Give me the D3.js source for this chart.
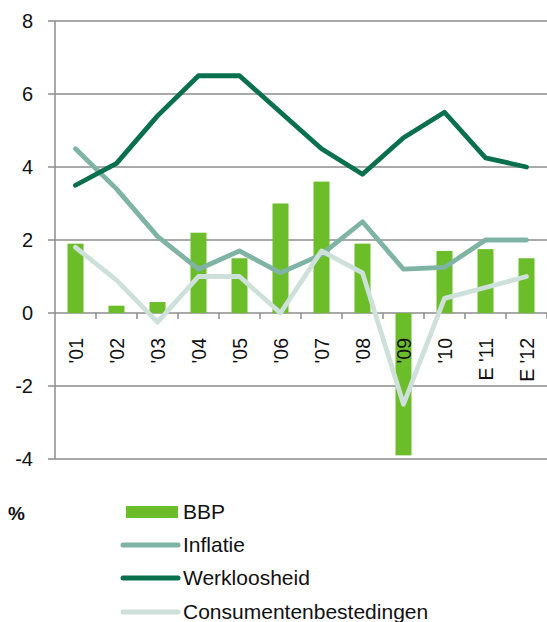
<!DOCTYPE html>
<html>
<head>
<meta charset="utf-8">
<script src="https://cdn.jsdelivr.net/npm/d3@7"></script>
<style>
  html, body { margin: 0; padding: 0; background: #fff; }
  svg { display: block; font-family: "Liberation Sans", Arial, Helvetica, sans-serif; }
</style>
</head>
<body>
<svg id="chart" width="547" height="622"></svg>
<script>
const categories = ["'01", "'02", "'03", "'04", "'05", "'06", "'07", "'08", "'09", "'10", "E '11", "E '12"];
const bbp = [1.9, 0.2, 0.3, 2.2, 1.5, 3.0, 3.6, 1.9, -3.9, 1.7, 1.75, 1.5];
const inflatie = [4.5, 3.4, 2.1, 1.2, 1.7, 1.1, 1.6, 2.5, 1.2, 1.25, 2.0, 2.0];
const werkloosheid = [3.5, 4.1, 5.4, 6.5, 6.5, 5.5, 4.5, 3.8, 4.8, 5.5, 4.25, 4.0];
const consumenten = [1.8, 0.9, -0.25, 1.0, 1.0, 0.0, 1.7, 1.1, -2.5, 0.4, 0.7, 1.0];
const yTicks = [-4, -2, 0, 2, 4, 6, 8];
const legendLabels = ["BBP", "Inflatie", "Werkloosheid", "Consumentenbestedingen"];
const unitLabel = "%";

const colors = {
  bbp: "#6bbd2a",
  inflatie: "#7fb3a4",
  werkloosheid: "#08704d",
  consumenten: "#cde0da",
  grid: "#8c8c8c"
};

const svg = d3.select("#chart");
const pLeft = 55, pRight = 547, pTop = 21, pBottom = 459;

const x = d3.scaleBand().domain(categories).range([pLeft, pRight]).paddingInner(0).paddingOuter(0);
const y = d3.scaleLinear().domain([-4, 8]).range([pBottom, pTop]);
const barW = x.bandwidth() * 0.39;

// Gridlines
svg.append("g").selectAll("line").data(yTicks).join("line")
  .attr("x1", pLeft - 7).attr("x2", pRight)
  .attr("y1", d => y(d)).attr("y2", d => y(d))
  .attr("stroke", colors.grid).attr("stroke-width", 1.5);

// Y axis labels
svg.append("g").selectAll("text").data(yTicks).join("text")
  .attr("x", 33).attr("y", d => y(d)).attr("dy", "0.36em")
  .attr("text-anchor", "end").attr("font-size", 20).attr("fill", "#111")
  .text(d => d);

// Bars
svg.append("g").selectAll("rect").data(bbp).join("rect")
  .attr("x", (d, i) => x(categories[i]) + (x.bandwidth() - barW) / 2)
  .attr("width", barW)
  .attr("y", d => y(Math.max(0, d)))
  .attr("height", d => Math.abs(y(d) - y(0)))
  .attr("fill", colors.bbp);

// Y axis line
svg.append("line").attr("x1", pLeft).attr("x2", pLeft).attr("y1", pTop).attr("y2", pBottom)
  .attr("stroke", colors.grid).attr("stroke-width", 1.5);

// Zero axis ticks
const bounds = categories.map(c => x(c) + x.bandwidth());
svg.append("g").selectAll("line").data(bounds).join("line")
  .attr("x1", d => d).attr("x2", d => d)
  .attr("y1", y(0)).attr("y2", y(0) + 6)
  .attr("stroke", colors.grid).attr("stroke-width", 1.5);

// X labels (rotated)
svg.append("g").selectAll("text").data(categories).join("text")
  .attr("transform", d => `translate(${x(d) + x.bandwidth() / 2},338) rotate(-90)`)
  .attr("dy", "0.36em")
  .attr("text-anchor", "end").attr("font-size", 19.5).attr("fill", "#111")
  .text(d => d);

// Lines
const line = d3.line().x((d, i) => x(categories[i]) + x.bandwidth() / 2).y(d => y(d));
[["inflatie", inflatie], ["werkloosheid", werkloosheid], ["consumenten", consumenten]].forEach(([k, vals]) => {
  svg.append("path").datum(vals)
    .attr("d", line)
    .attr("fill", "none")
    .attr("stroke", colors[k])
    .attr("stroke-width", 4.8)
    .attr("stroke-linejoin", "round")
    .attr("stroke-linecap", "round");
});

// Legend
svg.append("text").attr("x", 8).attr("y", 520).attr("font-size", 19).attr("font-weight", "bold")
  .attr("fill", "#111").text(unitLabel);

const legendY = [512, 545, 578, 612];
const legendKeys = ["bbp", "inflatie", "werkloosheid", "consumenten"];
const lg = svg.append("g");
legendKeys.forEach((k, i) => {
  if (k === "bbp") {
    lg.append("rect").attr("x", 126).attr("y", legendY[i] - 6).attr("width", 52).attr("height", 12)
      .attr("fill", colors.bbp);
  } else {
    lg.append("line").attr("x1", 123).attr("x2", 178).attr("y1", legendY[i]).attr("y2", legendY[i])
      .attr("stroke", colors[k]).attr("stroke-width", 5).attr("stroke-linecap", "round");
  }
  lg.append("text").attr("x", 183).attr("y", legendY[i] + 7)
    .attr("font-size", 21).attr("fill", "#111").text(legendLabels[i]);
});
</script>
</body>
</html>
